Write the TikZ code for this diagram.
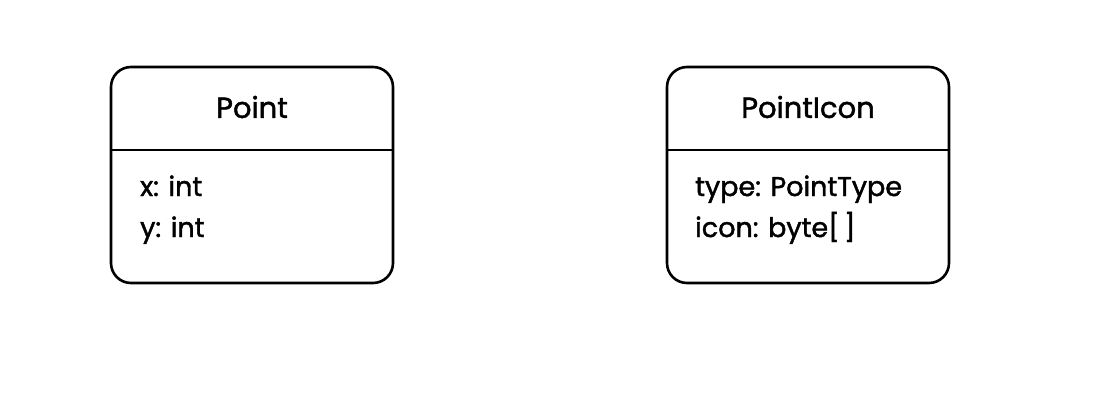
\documentclass[tikz,border=0pt]{standalone}
\usepackage{fontspec}
\setmainfont[FakeBold=1.6]{Poppins}
\begin{document}
\begin{tikzpicture}[x=1pt,y=-1pt,
  classbox/.style={draw=black,line width=2.6pt,rounded corners=20pt,fill=white},
  divider/.style={draw=black,line width=2.6pt},
  title/.style={font=\fontsize{29}{32}\selectfont,anchor=center,inner sep=0pt},
  attr/.style={font=\fontsize{27}{30}\selectfont,anchor=base west,inner sep=0pt}]
\useasboundingbox[fill=white] (0,0) rectangle (1106,405);
% Point
\draw[classbox] (111,67) rectangle (393,283);
\coordinate (pl) at (111,150);
\coordinate (pr) at (393,150);
\draw[divider] (pl) -- (pr);
\node[title] (ptitle) at (252,107) {Point};
\node[attr] (px) at (140,196) {x: int};
\node[attr] (py) at (140,237) {y: int};
% PointIcon
\draw[classbox] (667,67) rectangle (949,283);
\coordinate (il) at (667,150);
\coordinate (ir) at (949,150);
\draw[divider] (il) -- (ir);
\node[title] (ititle) at (808,107) {PointIcon};
\node[attr] (itype) at (695,196) {type: PointType};
\node[attr] (iicon) at (695,237) {icon: byte[\,]};
\end{tikzpicture}
\end{document}
